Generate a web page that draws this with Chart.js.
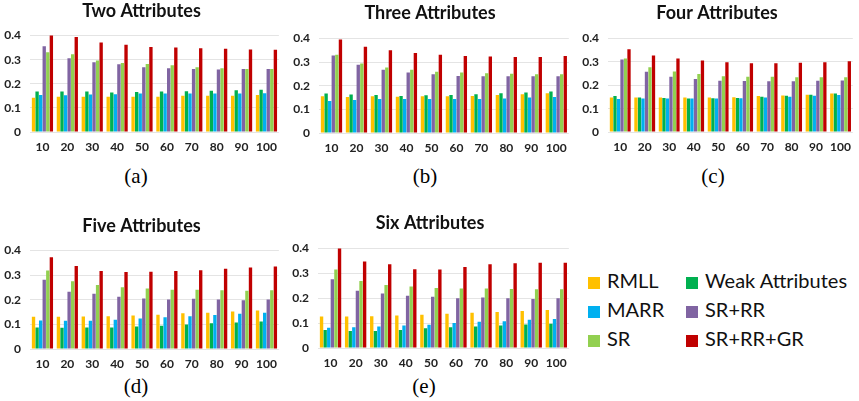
<!DOCTYPE html>
<html lang="en">
<head>
<meta charset="UTF-8">
<title>Attribute comparison</title>
<script src="https://cdn.jsdelivr.net/npm/chart.js"></script>
<style>
  body { margin: 0; background: #fff; }
  #wrap { position: relative; width: 859px; height: 401px; overflow: hidden; }
  .panel { position: absolute; }
  .cap { position: absolute; font-family: "Liberation Serif", "DejaVu Serif", serif; font-size: 21px; color: #000; transform: translate(-50%, -50%); }
  #legend { position: absolute; left: 588px; top: 268px; font-family: Lato, "Open Sans", sans-serif; font-size: 20px; color: #111; }
  .item { position: absolute; white-space: nowrap; height: 24px; line-height: 24px; }
  .item span { display: inline-block; width: 12px; height: 12px; margin-right: 7px; vertical-align: -1px; }
</style>
</head>
<body>
<div id="wrap">
  <div class="panel" style="left:0px;top:0px;width:285px;height:154px"><canvas id="c2"></canvas></div>
  <div class="panel" style="left:290px;top:0px;width:285px;height:155px"><canvas id="c3"></canvas></div>
  <div class="panel" style="left:575px;top:0px;width:284px;height:154px"><canvas id="c4"></canvas></div>
  <div class="panel" style="left:0px;top:205px;width:285px;height:166px"><canvas id="c5"></canvas></div>
  <div class="panel" style="left:290px;top:205px;width:285px;height:165px"><canvas id="c6"></canvas></div>
  <div class="cap" style="left:136px;top:176px">(a)</div>
  <div class="cap" style="left:425px;top:176px">(b)</div>
  <div class="cap" style="left:713px;top:176px">(c)</div>
  <div class="cap" style="left:136px;top:386px">(d)</div>
  <div class="cap" style="left:424px;top:386px">(e)</div>
  <div id="legend"></div>
</div>
<script>
const labels = ['10', '20', '30', '40', '50', '60', '70', '80', '90', '100'];

// bar order inside each group
const seriesNames = ['RMLL', 'Weak Attributes', 'MARR', 'SR+RR', 'SR', 'SR+RR+GR'];
const seriesColors = ['#FFC000', '#00B050', '#00B0F0', '#8064A2', '#92D050', '#C00000'];

// Two Attributes
const twoRMLL = [0.142, 0.146, 0.146, 0.146, 0.146, 0.146, 0.150, 0.150, 0.150, 0.154];
const twoWeak = [0.168, 0.168, 0.168, 0.164, 0.166, 0.168, 0.169, 0.171, 0.173, 0.175];
const twoMARR = [0.154, 0.153, 0.156, 0.157, 0.160, 0.160, 0.160, 0.160, 0.160, 0.161];
const twoSRRR = [0.356, 0.306, 0.289, 0.281, 0.269, 0.265, 0.261, 0.259, 0.261, 0.261];
const twoSR = [0.331, 0.323, 0.297, 0.286, 0.282, 0.277, 0.269, 0.265, 0.261, 0.261];
const twoSRRRGR = [0.402, 0.394, 0.371, 0.362, 0.353, 0.351, 0.347, 0.345, 0.342, 0.341];

// Three Attributes
const threeRMLL = [0.156, 0.153, 0.156, 0.154, 0.156, 0.156, 0.157, 0.161, 0.164, 0.168];
const threeWeak = [0.167, 0.163, 0.161, 0.157, 0.160, 0.161, 0.164, 0.168, 0.172, 0.176];
const threeMARR = [0.136, 0.140, 0.144, 0.144, 0.144, 0.144, 0.144, 0.146, 0.150, 0.153];
const threeSRRR = [0.328, 0.289, 0.268, 0.256, 0.249, 0.242, 0.240, 0.240, 0.240, 0.240];
const threeSR = [0.332, 0.294, 0.278, 0.268, 0.260, 0.256, 0.253, 0.251, 0.249, 0.249];
const threeSRRRGR = [0.396, 0.365, 0.351, 0.339, 0.332, 0.326, 0.324, 0.322, 0.322, 0.326];

// Four Attributes
const fourRMLL = [0.148, 0.148, 0.148, 0.148, 0.148, 0.149, 0.154, 0.156, 0.159, 0.165];
const fourWeak = [0.154, 0.148, 0.146, 0.144, 0.145, 0.146, 0.151, 0.155, 0.159, 0.165];
const fourMARR = [0.141, 0.144, 0.144, 0.144, 0.144, 0.145, 0.148, 0.151, 0.155, 0.158];
const fourSRRR = [0.310, 0.258, 0.237, 0.227, 0.220, 0.218, 0.217, 0.217, 0.220, 0.221];
const fourSR = [0.315, 0.277, 0.259, 0.248, 0.239, 0.237, 0.237, 0.234, 0.234, 0.235];
const fourSRRRGR = [0.354, 0.328, 0.315, 0.306, 0.299, 0.294, 0.294, 0.297, 0.299, 0.303];

// Five Attributes
const fiveRMLL = [0.131, 0.131, 0.132, 0.133, 0.136, 0.139, 0.145, 0.147, 0.152, 0.156];
const fiveWeak = [0.087, 0.086, 0.087, 0.087, 0.091, 0.095, 0.100, 0.105, 0.108, 0.112];
const fiveMARR = [0.116, 0.115, 0.115, 0.119, 0.124, 0.129, 0.133, 0.138, 0.143, 0.147];
const fiveSRRR = [0.282, 0.233, 0.225, 0.212, 0.205, 0.201, 0.204, 0.201, 0.198, 0.201];
const fiveSR = [0.319, 0.275, 0.260, 0.251, 0.246, 0.241, 0.241, 0.239, 0.237, 0.239];
const fiveSRRRGR = [0.373, 0.337, 0.317, 0.313, 0.314, 0.317, 0.320, 0.326, 0.331, 0.335];

// Six Attributes
const sixRMLL = [0.127, 0.127, 0.128, 0.131, 0.134, 0.138, 0.142, 0.145, 0.149, 0.153];
const sixWeak = [0.072, 0.068, 0.068, 0.072, 0.079, 0.083, 0.087, 0.091, 0.095, 0.098];
const sixMARR = [0.081, 0.083, 0.087, 0.091, 0.094, 0.101, 0.106, 0.108, 0.114, 0.117];
const sixSRRR = [0.277, 0.230, 0.219, 0.210, 0.206, 0.200, 0.203, 0.200, 0.197, 0.200];
const sixSR = [0.316, 0.270, 0.254, 0.247, 0.241, 0.239, 0.239, 0.237, 0.236, 0.236];
const sixSRRRGR = [0.404, 0.348, 0.337, 0.317, 0.316, 0.326, 0.337, 0.341, 0.343, 0.343];

const yTicks = [0, 0.1, 0.2, 0.3, 0.4];

function makeChart(id, title, series, yWidth, padTop, padBottom, padRight) {
    const ctx = document.getElementById(id).getContext('2d');
    new Chart(ctx, {
        type: 'bar',
        data: {
            labels: labels,
            datasets: series.map((values, i) => ({
                label: seriesNames[i],
                data: values,
                backgroundColor: seriesColors[i],
                borderWidth: 0,
                categoryPercentage: 0.86,
                barPercentage: 0.94
            }))
        },
        options: {
            responsive: true,
            maintainAspectRatio: false,
            animation: false,
            layout: { padding: { left: 0, right: padRight, top: 0, bottom: 0 } },
            plugins: {
                legend: { display: false },
                tooltip: { enabled: false },
                title: {
                    display: true,
                    text: title,
                    color: '#111',
                    font: { family: 'Lato', size: 18, weight: 'bold' },
                    padding: { top: padTop, bottom: padBottom }
                }
            },
            scales: {
                x: {
                    grid: { display: false, drawTicks: false },
                    border: { display: false },
                    ticks: {
                        color: '#222',
                        font: { family: 'Lato', size: 12, weight: 'bold' },
                        padding: 8,
                        maxRotation: 0,
                        autoSkip: false
                    },
                    afterFit: s => { s.height = 22; }
                },
                y: {
                    min: 0,
                    max: 0.4,
                    afterBuildTicks: s => { s.ticks = yTicks.map(v => ({ value: v })); },
                    grid: { color: '#e4e4e4', drawTicks: false },
                    border: { display: false },
                    ticks: {
                        color: '#222',
                        font: { family: 'Lato', size: 12, weight: 'bold' },
                        padding: 9
                    },
                    afterFit: s => { s.width = yWidth; }
                }
            }
        }
    });
}

makeChart('c2', 'Two Attributes', [twoRMLL, twoWeak, twoMARR, twoSRRR, twoSR, twoSRRRGR], 30, 0, 14, 2);
makeChart('c3', 'Three Attributes', [threeRMLL, threeWeak, threeMARR, threeSRRR, threeSR, threeSRRRGR], 29, 2, 15, 5);
makeChart('c4', 'Four Attributes', [fourRMLL, fourWeak, fourMARR, fourSRRR, fourSR, fourSRRRGR], 33, 2, 15, 0);
makeChart('c5', 'Five Attributes', [fiveRMLL, fiveWeak, fiveMARR, fiveSRRR, fiveSR, fiveSRRRGR], 30, 10, 14, 2);
makeChart('c6', 'Six Attributes', [sixRMLL, sixWeak, sixMARR, sixSRRR, sixSR, sixSRRRGR], 28, 7, 15, 5);

// legend: two columns of three
const legendOrder = ['RMLL', 'MARR', 'SR', 'Weak Attributes', 'SR+RR', 'SR+RR+GR'];
const legendEl = document.getElementById('legend');
legendOrder.forEach((name, k) => {
    const i = seriesNames.indexOf(name);
    const item = document.createElement('div');
    item.className = 'item';
    item.style.left = (k < 3 ? 0 : 98) + 'px';
    item.style.top = ((k % 3) * 29) + 'px';
    item.innerHTML = '<span style="background:' + seriesColors[i] + '"></span>' + name;
    legendEl.appendChild(item);
});
</script>
</body>
</html>
